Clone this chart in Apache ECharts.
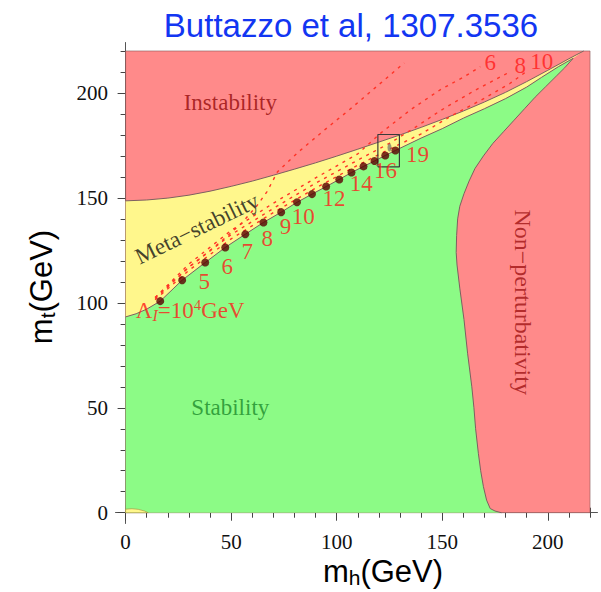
<!DOCTYPE html>
<html>
<head>
<meta charset="utf-8">
<script src="https://cdn.jsdelivr.net/npm/echarts@6/dist/echarts.min.js"></script>
<style>
  html, body { margin: 0; padding: 0; background: #ffffff; }
  #chart { width: 601px; height: 592px; }
</style>
</head>
<body>
<div id="chart"></div>
<script>
// Phase diagram of the SM vacuum in the (m_h, m_t) plane, all in GeV.

// Plotted domain
const domainMh = [0, 220];
const domainMt = [0, 220];

// Instability / meta-stability boundary
const upperMh = [0, 10, 20, 30, 40, 50, 60, 70, 80, 90, 100, 110, 120, 130, 140, 150, 160, 170, 180, 190, 200, 210, 217];
const upperMt = [148.6, 149.0, 149.9, 151.3, 153.2, 155.5, 158.0, 160.8, 163.7, 166.7, 169.9, 173.2, 176.6, 180.0, 183.6, 187.4, 191.4, 195.7, 200.3, 205.4, 210.8, 216.3, 220];

// Stability / meta-stability boundary
const stabMh = [0, 5, 10, 16.4, 26.8, 37.7, 47.2, 56.7, 65.3, 73.7, 81.2, 88.3, 95.0, 101.2, 107.0, 112.7, 117.9, 123.0, 127.8, 140, 150, 160, 170, 180, 190, 197, 205, 212];
const stabMt = [93.3, 94.8, 97.0, 100.8, 110.8, 119.2, 126.4, 132.7, 138.3, 143.2, 147.9, 151.8, 155.4, 158.8, 162.1, 165.0, 167.6, 170.2, 172.6, 178.5, 183.0, 188.0, 192.5, 197.3, 202.8, 207.4, 212.5, 216.5];

// Non-perturbativity boundary, from the bottom edge up to the tip
const npMh = [178, 175, 172.7, 171, 169.5, 168.2, 167.1, 165.8, 165.0, 164.0, 162.0, 160.3, 158.3, 157.0, 156.6, 156.8, 157.3, 158.3, 160.3, 162.7, 165.5, 169.5, 174.0, 179.0, 184.0, 189.0, 194.0, 199.0, 204.0, 208.0, 212.0];
const npMt = [0, 0.8, 2.0, 6.0, 12.4, 20.0, 28.3, 40.0, 50.0, 60.0, 76.0, 92.0, 107.0, 118.0, 124.0, 132.0, 140.0, 146.0, 152.0, 158.0, 164.0, 170.0, 176.0, 181.5, 187.0, 192.5, 198.0, 203.0, 208.0, 212.0, 216.5];

// Small meta-stable sliver at very low masses
const blobMh = [0, 0, 3, 6, 9, 10.7];
const blobMt = [0, 1.7, 1.9, 1.6, 0.8, 0];

// Instability-scale contours (dashed)
const contourAMh = [14, 30, 45, 55, 62, 67, 72, 82, 95, 106, 120, 132];
const contourAMt = [102.5, 117, 129, 138, 146, 153, 162.5, 172, 183, 192, 204, 214.3];
const contour6Mh = [14, 30, 50, 70, 90, 110, 121, 135, 149, 160, 168];
const contour6Mt = [102.5, 118.5, 134.5, 147.5, 159.5, 171, 181, 192, 201.5, 207.5, 212.5];
const contour8Mh = [14, 30, 50, 70, 90, 110, 125, 137, 149, 165, 182];
const contour8Mt = [102, 117, 132.5, 145, 157, 168, 176, 183.5, 191.5, 201, 210];
const contour10Mh = [14, 30, 50, 70, 90, 110, 125, 140, 155, 170, 182, 191];
const contour10Mt = [101.5, 115.5, 130.5, 143, 154.7, 165.6, 173.2, 180.5, 189.5, 197.5, 204.5, 211];

// Contour tags at the top
const tagText = ['6', '8', '10'];
const tagMh = [172.7, 186.9, 197.1];
const tagMt = [214.7, 213.2, 215.2];

// Points on the stability boundary, tagged by log10(Λ_I / GeV)
const lambdaExp = [4, 5, 6, 7, 8, 9, 10, 11, 12, 13, 14, 15, 16, 17, 18, 19];
const lambdaMh = [16.4, 26.8, 37.7, 47.2, 56.7, 65.3, 73.7, 81.2, 88.3, 95.0, 101.2, 107.0, 112.7, 117.9, 123.0, 127.8];
const lambdaMt = [100.8, 110.8, 119.2, 126.4, 132.7, 138.3, 143.2, 147.9, 151.8, 155.4, 158.8, 162.1, 165.0, 167.6, 170.2, 172.6];
const labeledExp = [4, 5, 6, 7, 8, 9, 10, 12, 14, 16, 19];

// Experimental window
const boxMh = [119.5, 129.7];
const boxMt = [164.8, 180.2];
const fitMh = [125.0];
const fitMt = [174.0];

// Ticks
const xMajor = [0, 50, 100, 150, 200];
const xMinor = [10, 20, 30, 40, 60, 70, 80, 90, 110, 120, 130, 140, 160, 170, 180, 190, 210, 220];
const yMajor = [0, 50, 100, 150, 200];
const yMinor = [10, 20, 30, 40, 60, 70, 80, 90, 110, 120, 130, 140, 160, 170, 180, 190, 210, 220];

// Region names
const regionText = ['Instability', 'Meta\u2212stability', 'Stability', 'Non\u2212perturbativity'];
const regionMh = [49.6, 33.8, 49.6, 188.1];
const regionMt = [195.6, 135.4, 50.1, 100.3];

const zip = (a, b) => a.map((v, i) => [v, b[i]]);

const RED = '#ff8a8a';
const YELLOW = '#fff78c';
const GREEN = '#8cfb86';
const EDGE = '#7d6060';
const DASH = '#ff3326';
const LABEL_RED = '#ff1a1a';
const SERIF = '"Liberation Serif", "DejaVu Serif", serif';
const SANS = '"Liberation Sans", Arial, sans-serif';

function polygonSeries(xs, ys, fill, z, stroke) {
  return {
    type: 'custom',
    z: z,
    silent: true,
    clip: false,
    data: [[50, 50]],
    renderItem: function (params, api) {
      return {
        type: 'polygon',
        shape: { points: xs.map((x, i) => api.coord([x, ys[i]])) },
        style: { fill: fill, stroke: stroke || 'none', lineWidth: stroke ? 1 : 0 }
      };
    }
  };
}

function curveSeries(xs, ys, color, width, dash, z) {
  return {
    type: 'line',
    z: z,
    silent: true,
    showSymbol: false,
    symbol: 'none',
    data: zip(xs, ys),
    lineStyle: { color: color, width: width, type: dash || 'solid' },
    animation: false
  };
}

function makeX(pos, ticks, len, withLabels) {
  return {
    type: 'value', position: pos, min: -4.55, max: 223.3,
    axisLine: { show: true, lineStyle: { color: '#555', width: 1 } },
    axisTick: { show: true, inside: true, length: len, customValues: ticks, lineStyle: { color: '#444', width: 1 } },
    axisLabel: withLabels ? { show: true, customValues: ticks, fontFamily: SERIF, fontSize: 21, color: '#111', margin: 8 } : { show: false },
    splitLine: { show: false }
  };
}
function makeY(pos, ticks, len, withLabels) {
  return {
    type: 'value', position: pos, min: -4.9, max: 223.8,
    axisLine: { show: true, lineStyle: { color: '#555', width: 1 } },
    axisTick: { show: true, inside: true, length: len, customValues: ticks, lineStyle: { color: '#444', width: 1 } },
    axisLabel: withLabels ? { show: true, customValues: ticks, fontFamily: SERIF, fontSize: 21, color: '#111', margin: 8 } : { show: false },
    splitLine: { show: false }
  };
}

const yellowMh = upperMh.concat(stabMh.slice().reverse());
const yellowMt = upperMt.concat(stabMt.slice().reverse());
const greenMh = stabMh.concat(npMh.slice().reverse(), [0]);
const greenMt = stabMt.concat(npMt.slice().reverse(), [0]);
const bgMh = [domainMh[0], domainMh[1], domainMh[1], domainMh[0]];
const bgMt = [domainMt[0], domainMt[0], domainMt[1], domainMt[1]];

const dotRich = {
  a: { fontFamily: SERIF, fontSize: 23, color: LABEL_RED },
  i: { fontFamily: SERIF, fontSize: 16, fontStyle: 'italic', color: LABEL_RED, padding: [11, 0, 0, 0] },
  p: { fontFamily: SERIF, fontSize: 15, color: LABEL_RED, padding: [0, 0, 11, 0] }
};

const dotData = lambdaExp.map((e, i) => {
  const shown = labeledExp.indexOf(e) >= 0;
  const item = { value: [lambdaMh[i], lambdaMt[i]], exp: e };
  if (e === 4) {
    item.label = { show: true, position: 'inside', offset: [30, 9],
      formatter: '{a|\u039B}{i|I}{a|=10}{p|' + e + '}{a|GeV}', rich: dotRich };
  } else {
    item.label = { show: shown, position: 'inside', offset: [e >= 10 ? 22 : 22, e === 5 ? 1 : 4],
      formatter: String(e), fontFamily: SERIF, fontSize: 23, color: LABEL_RED };
  }
  return item;
});

const regionColors = ['#960a0a', '#111111', '#1b8a2a', '#a01212'];
const regionRotate = [0, 26, 0, -90];
const regionSize = [23, 23, 23, 24];
const regionData = regionText.map((t, i) => ({
  value: [regionMh[i], regionMt[i]],
  label: { show: true, position: 'inside', formatter: t, rotate: regionRotate[i],
    fontFamily: SERIF, fontSize: regionSize[i], color: regionColors[i] }
}));

const tagData = tagText.map((t, i) => ({
  value: [tagMh[i], tagMt[i]],
  label: { show: true, position: 'inside', formatter: t, fontFamily: SERIF, fontSize: 23, color: LABEL_RED }
}));

const boxMhPath = [boxMh[0], boxMh[1], boxMh[1], boxMh[0], boxMh[0]];
const boxMtPath = [boxMt[0], boxMt[0], boxMt[1], boxMt[1], boxMt[0]];

const axisRich = {
  m: { fontFamily: SANS, fontSize: 31, color: '#000' },
  s: { fontFamily: SANS, fontSize: 21, color: '#000', padding: [12, 0, 0, 0] }
};

const chart = echarts.init(document.getElementById('chart'), null, { renderer: 'svg' });
chart.setOption({
  animation: false,
  backgroundColor: '#ffffff',
  grid: { left: 116, top: 43, width: 481, height: 480, containLabel: false },
  xAxis: [
    makeX('bottom', xMajor, 8, true),
    makeX('bottom', xMinor, 5, false),
    makeX('top', xMajor, 8, false),
    makeX('top', xMinor, 5, false)
  ],
  yAxis: [
    makeY('left', yMajor, 8, true),
    makeY('left', yMinor, 5, false),
    makeY('right', yMajor, 8, false),
    makeY('right', yMinor, 5, false)
  ],
  graphic: [
    { type: 'text', x: 351, y: 25, silent: true,
      style: { text: 'Buttazzo et al, 1307.3536', fontFamily: SANS, fontSize: 33, fill: '#1236f2', align: 'center', verticalAlign: 'middle' } },
    { type: 'text', x: 383, y: 571, silent: true,
      style: { text: '{m|m}{s|h}{m|(GeV)}', rich: axisRich, align: 'center', verticalAlign: 'middle' } },
    { type: 'text', x: 41, y: 287, rotation: Math.PI / 2, silent: true,
      style: { text: '{m|m}{s|t}{m|(GeV)}', rich: axisRich, align: 'center', verticalAlign: 'middle' } }
  ],
  series: [
    polygonSeries(bgMh, bgMt, RED, 1, 'rgba(125,80,80,0.55)'),
    polygonSeries(yellowMh, yellowMt, YELLOW, 2),
    polygonSeries(greenMh, greenMt, GREEN, 3),
    polygonSeries(blobMh, blobMt, YELLOW, 3, 'rgba(160,140,60,0.6)'),
    curveSeries(upperMh, upperMt, EDGE, 1, null, 4),
    curveSeries(stabMh, stabMt, EDGE, 1, null, 4),
    curveSeries(npMh, npMt, EDGE, 1, null, 4),
    curveSeries(contourAMh, contourAMt, DASH, 1.4, [3, 5], 5),
    curveSeries(contour6Mh, contour6Mt, DASH, 1.4, [3, 5], 5),
    curveSeries(contour8Mh, contour8Mt, DASH, 1.4, [3, 5], 5),
    curveSeries(contour10Mh, contour10Mt, DASH, 1.4, [3, 5], 5),
    curveSeries(boxMhPath, boxMtPath, '#3a3a3a', 1.2, null, 6),
    {
      type: 'scatter', z: 6, silent: true, symbol: 'circle', symbolSize: [4, 8],
      itemStyle: { color: 'rgba(105,105,105,0.85)' },
      data: zip(fitMh, fitMt)
    },
    {
      type: 'scatter', z: 7, silent: true, symbol: 'circle', symbolSize: 8,
      itemStyle: { color: '#5a0000' },
      data: dotData
    },
    {
      type: 'scatter', z: 8, silent: true, symbolSize: 0,
      data: tagData
    },
    {
      type: 'scatter', z: 8, silent: true, symbolSize: 0,
      data: regionData
    }
  ]
});
</script>
</body>
</html>
